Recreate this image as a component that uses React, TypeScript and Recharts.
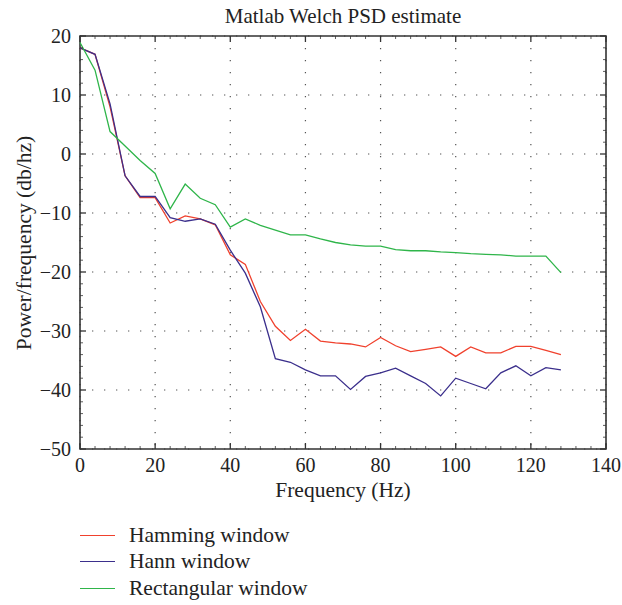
import React from "react";
import { LineChart, Line, XAxis, YAxis, CartesianGrid, ReferenceArea } from "recharts";

const frequencies = [0, 4, 8, 12, 16, 20, 24, 28, 32, 36, 40, 44, 48, 52, 56, 60, 64, 68, 72, 76, 80, 84, 88, 92, 96, 100, 104, 108, 112, 116, 120, 124, 128];
const hamming = [18.0, 16.9, 8.0, -3.7, -7.4, -7.4, -11.7, -10.5, -11.0, -12.0, -17.1, -18.7, -25.0, -29.2, -31.6, -29.7, -31.7, -32.0, -32.2, -32.7, -31.1, -32.5, -33.5, -33.1, -32.7, -34.3, -32.7, -33.7, -33.7, -32.6, -32.6, -33.3, -34.0];
const hann = [18.0, 16.9, 8.5, -3.7, -7.2, -7.2, -10.8, -11.4, -11.0, -11.9, -16.3, -20.2, -25.9, -34.7, -35.3, -36.6, -37.6, -37.6, -39.9, -37.7, -37.1, -36.3, -37.6, -38.9, -41.0, -38.0, -38.9, -39.8, -37.1, -35.9, -37.6, -36.2, -36.6];
const rectangular = [18.9, 14.2, 3.8, 1.35, -1.1, -3.3, -9.3, -5.1, -7.5, -8.6, -12.4, -11.0, -12.1, -12.9, -13.7, -13.7, -14.4, -15.0, -15.4, -15.6, -15.6, -16.2, -16.4, -16.4, -16.6, -16.7, -16.9, -17.0, -17.1, -17.3, -17.3, -17.3, -20.1];

const xMajorTicks = [0, 20, 40, 60, 80, 100, 120, 140];
const yMajorTicks = [-50, -40, -30, -20, -10, 0, 10, 20];

const titleText = "Matlab Welch PSD estimate";
const xLabel = "Frequency (Hz)";
const yLabel = "Power/frequency (db/hz)";

const series = [
  { key: "hamming", name: "Hamming window", color: "#f0412d" },
  { key: "hann", name: "Hann window", color: "#3b2f8c" },
  { key: "rect", name: "Rectangular window", color: "#2fb54a" },
];

const data = frequencies.map((f, i) => ({ f, hamming: hamming[i], hann: hann[i], rect: rectangular[i] }));

const xAllTicks: number[] = [];
for (let v = 0; v <= 140; v += 4) xAllTicks.push(v);
const yAllTicks: number[] = [];
for (let v = -50; v <= 20; v += 2) yAllTicks.push(v);

const W = 622;
const H = 605;
const PL = 80;
const PT = 36;
const PW = 526;
const PH = 413;
const FONT = "'Liberation Serif', 'DejaVu Serif', serif";
const AXIS = "#333";

const fmt = (v: number) => (v < 0 ? "\u2212" + Math.abs(v) : String(v));

const XTick = (props: any) => {
  const { x, y, payload } = props;
  const v = payload.value;
  const major = xMajorTicks.includes(v);
  const len = major ? 6 : 3;
  const sw = major ? 1.3 : 0.8;
  return (
    <g>
      <line x1={x} x2={x} y1={y} y2={y - len} stroke={AXIS} strokeWidth={sw} />
      <line x1={x} x2={x} y1={y - PH} y2={y - PH + len} stroke={AXIS} strokeWidth={sw} />
      {major && (
        <text x={x} y={y + 23} textAnchor="middle" fontSize={20} fill="#222" fontFamily={FONT}>
          {fmt(v)}
        </text>
      )}
    </g>
  );
};

const YTick = (props: any) => {
  const { x, y, payload } = props;
  const v = payload.value;
  const major = yMajorTicks.includes(v);
  const len = major ? 6 : 3;
  const sw = major ? 1.3 : 0.8;
  return (
    <g>
      <line x1={x} x2={x + len} y1={y} y2={y} stroke={AXIS} strokeWidth={sw} />
      <line x1={x + PW} x2={x + PW - len} y1={y} y2={y} stroke={AXIS} strokeWidth={sw} />
      {major && (
        <text x={x - 9} y={y} dy="0.35em" textAnchor="end" fontSize={20} fill="#222" fontFamily={FONT}>
          {fmt(v)}
        </text>
      )}
    </g>
  );
};

export default function App() {
  return (
    <div style={{ position: "absolute", left: 0, top: 0, width: W, height: H, background: "#fff", fontFamily: FONT, color: "#222" }}>
      <LineChart
        width={W}
        height={H}
        data={data}
        margin={{ top: PT, right: W - PL - PW, bottom: 96, left: 20 }}
      >
        <CartesianGrid
          stroke="#555"
          strokeWidth={1.2}
          strokeDasharray="1.3 10.7"
          verticalValues={xMajorTicks}
          horizontalValues={yMajorTicks}
        />
        <XAxis
          dataKey="f"
          type="number"
          domain={[0, 140]}
          ticks={xAllTicks}
          interval={0}
          height={60}
          tickSize={0}
          tickMargin={0}
          axisLine={false}
          tickLine={false}
          tick={<XTick />}
        />
        <YAxis
          type="number"
          domain={[-50, 20]}
          ticks={yAllTicks}
          interval={0}
          width={60}
          tickSize={0}
          tickMargin={0}
          axisLine={false}
          tickLine={false}
          tick={<YTick />}
        />
        <ReferenceArea x1={0} x2={140} y1={-50} y2={20} fill="none" stroke={AXIS} strokeWidth={1.6} ifOverflow="visible" />
        {series.map((s) => (
          <Line
            key={s.key}
            type="linear"
            dataKey={s.key}
            name={s.name}
            stroke={s.color}
            strokeWidth={1.3}
            dot={false}
            activeDot={false}
            isAnimationActive={false}
          />
        ))}
      </LineChart>
      <div style={{ position: "absolute", left: PL, width: PW, top: 4, textAlign: "center", fontSize: 21, whiteSpace: "nowrap" }}>
        {titleText}
      </div>
      <div style={{ position: "absolute", left: PL, width: PW, top: 478, textAlign: "center", fontSize: 21.5, whiteSpace: "nowrap" }}>
        {xLabel}
      </div>
      <div
        style={{
          position: "absolute",
          left: 24,
          top: PT + PH / 2,
          transform: "translate(-50%, -50%) rotate(-90deg)",
          fontSize: 21.5,
          whiteSpace: "nowrap",
        }}
      >
        {yLabel}
      </div>
      <div style={{ position: "absolute", left: 80, top: 522 }}>
        {series.map((s) => (
          <div key={s.key} style={{ display: "flex", alignItems: "center", height: 26.5 }}>
            <div style={{ width: 35, height: 0, borderTop: `1.5px solid ${s.color}`, marginRight: 14 }} />
            <span style={{ fontSize: 21.5, whiteSpace: "nowrap" }}>{s.name}</span>
          </div>
        ))}
      </div>
    </div>
  );
}
